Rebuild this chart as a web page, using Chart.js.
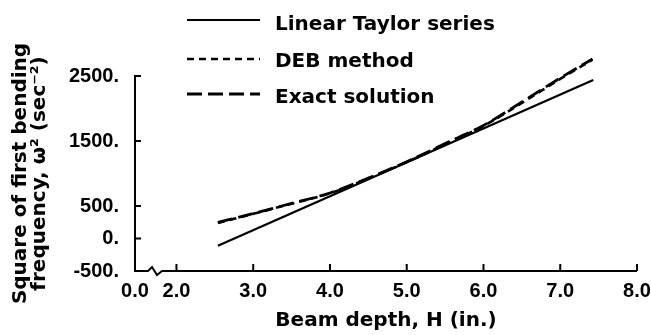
<!DOCTYPE html>
<html>
<head>
<meta charset="utf-8">
<script src="https://cdn.jsdelivr.net/npm/chart.js@4"></script>
<style>
  html, body { margin: 0; padding: 0; background: #fff; }
  #wrap { width: 651px; height: 335px; }
</style>
</head>
<body>
<div id="wrap"><canvas id="beamChart"></canvas></div>
<script>
// Linear Taylor series (straight line)
const taylorDepth = [2.54, 7.43];
const taylorFreq = [-110, 2440];

// DEB method and exact solution (nearly on top of each other)
const curveDepth = [2.54, 3.0, 3.5, 4.0, 4.5, 5.0, 5.5, 6.0, 6.5, 7.0, 7.42];
const debFreq = [240, 380, 535, 695, 925, 1175, 1450, 1730, 2085, 2455, 2750];
const exactFreq = [247, 385, 540, 700, 930, 1180, 1460, 1740, 2100, 2470, 2762];

const xTicks = [2, 3, 4, 5, 6, 7, 8];
const yTicks = [-500, 0, 500, 1500, 2500];
const xBreakValue = 1.46; // axis is broken here, labelled "0.0"

const tickFont = { family: 'Liberation Sans', size: 20, weight: 'bold' };
const titleFont = { family: 'DejaVu Sans', size: 20, weight: 'bold' };

Chart.defaults.color = '#000';

const toPoints = (xs, ys) => xs.map((v, i) => ({ x: v, y: ys[i] }));

// inward ticks, broken x axis and the stacked legend
const axisExtras = {
    id: 'axisExtras',
    afterDraw(chart) {
        const { ctx, chartArea: { left, right, bottom }, scales: { x, y } } = chart;
        ctx.save();
        ctx.strokeStyle = '#000';
        ctx.lineWidth = 2;
        ctx.beginPath();
        yTicks.filter(v => v > -500).forEach(v => {
            const py = y.getPixelForValue(v);
            ctx.moveTo(left, py);
            ctx.lineTo(left + 6, py);
        });
        xTicks.forEach(v => {
            const px = x.getPixelForValue(v);
            ctx.moveTo(px, bottom);
            ctx.lineTo(px, bottom - 7);
        });
        ctx.stroke();

        ctx.beginPath();
        ctx.moveTo(left, bottom);
        ctx.lineTo(left + 13, bottom);
        ctx.lineTo(left + 17, bottom - 4);
        ctx.lineTo(left + 22, bottom + 4);
        ctx.lineTo(left + 27, bottom);
        ctx.lineTo(right, bottom);
        ctx.stroke();

        // legend
        const lineY = [20, 59, 94];
        const textY = [30, 67, 103];
        ctx.font = 'bold 20px "DejaVu Sans"';
        ctx.fillStyle = '#000';
        ctx.textBaseline = 'alphabetic';
        chart.data.datasets.forEach((ds, i) => {
            ctx.lineWidth = ds.borderWidth;
            ctx.setLineDash(ds.borderDash || []);
            ctx.beginPath();
            ctx.moveTo(187, lineY[i]);
            ctx.lineTo(260, lineY[i]);
            ctx.stroke();
            ctx.setLineDash([]);
            ctx.fillText(ds.label, 275, textY[i]);
        });
        ctx.restore();
    }
};

new Chart(document.getElementById('beamChart'), {
    type: 'line',
    data: {
        datasets: [{
            label: 'Linear Taylor series',
            data: toPoints(taylorDepth, taylorFreq),
            borderColor: '#000',
            borderWidth: 2.2,
            pointRadius: 0,
            clip: false
        }, {
            label: 'DEB method',
            data: toPoints(curveDepth, debFreq),
            borderColor: '#000',
            borderWidth: 2.6,
            borderDash: [7, 5],
            pointRadius: 0,
            cubicInterpolationMode: 'monotone',
            clip: false
        }, {
            label: 'Exact solution',
            data: toPoints(curveDepth, exactFreq),
            borderColor: '#000',
            borderWidth: 2.8,
            borderDash: [15, 6],
            pointRadius: 0,
            cubicInterpolationMode: 'monotone',
            clip: false
        }]
    },
    options: {
        responsive: true,
        maintainAspectRatio: false,
        animation: false,
        devicePixelRatio: 1,
        layout: { padding: { top: 76, right: 14, left: 0, bottom: 0 } },
        plugins: {
            legend: { display: false },
            tooltip: { enabled: false }
        },
        scales: {
            x: {
                type: 'linear',
                min: xBreakValue,
                max: 8,
                border: { display: false },
                grid: { display: false, drawTicks: false },
                ticks: {
                    font: tickFont,
                    padding: 8,
                    autoSkip: false,
                    maxRotation: 0,
                    callback: v => v === xBreakValue ? '0.0' : v.toFixed(1)
                },
                afterBuildTicks: s => { s.ticks = [xBreakValue, ...xTicks].map(v => ({ value: v })); },
                afterFit: s => { s.height = 64; s.paddingRight = 0; s.paddingLeft = 0; },
                title: {
                    display: true,
                    text: 'Beam depth, H (in.)',
                    font: titleFont,
                    padding: { top: 0, bottom: 2.5 }
                }
            },
            y: {
                min: -500,
                max: 2500,
                border: { display: true, color: '#000', width: 2 },
                grid: { display: false, drawTicks: false },
                ticks: {
                    font: tickFont,
                    padding: 16,
                    callback: v => v + '.'
                },
                afterBuildTicks: s => { s.ticks = yTicks.map(v => ({ value: v })); },
                afterFit: s => { s.width = 135; },
                title: {
                    display: true,
                    text: ['Square of first bending', 'frequency, \u03C9\u00B2 (sec\u207B\u00B2)'],
                    font: { family: 'DejaVu Sans', size: 20, weight: 'bold', lineHeight: 0.95 },
                    padding: { top: 11 }
                }
            }
        }
    },
    plugins: [axisExtras]
});
</script>
</body>
</html>
